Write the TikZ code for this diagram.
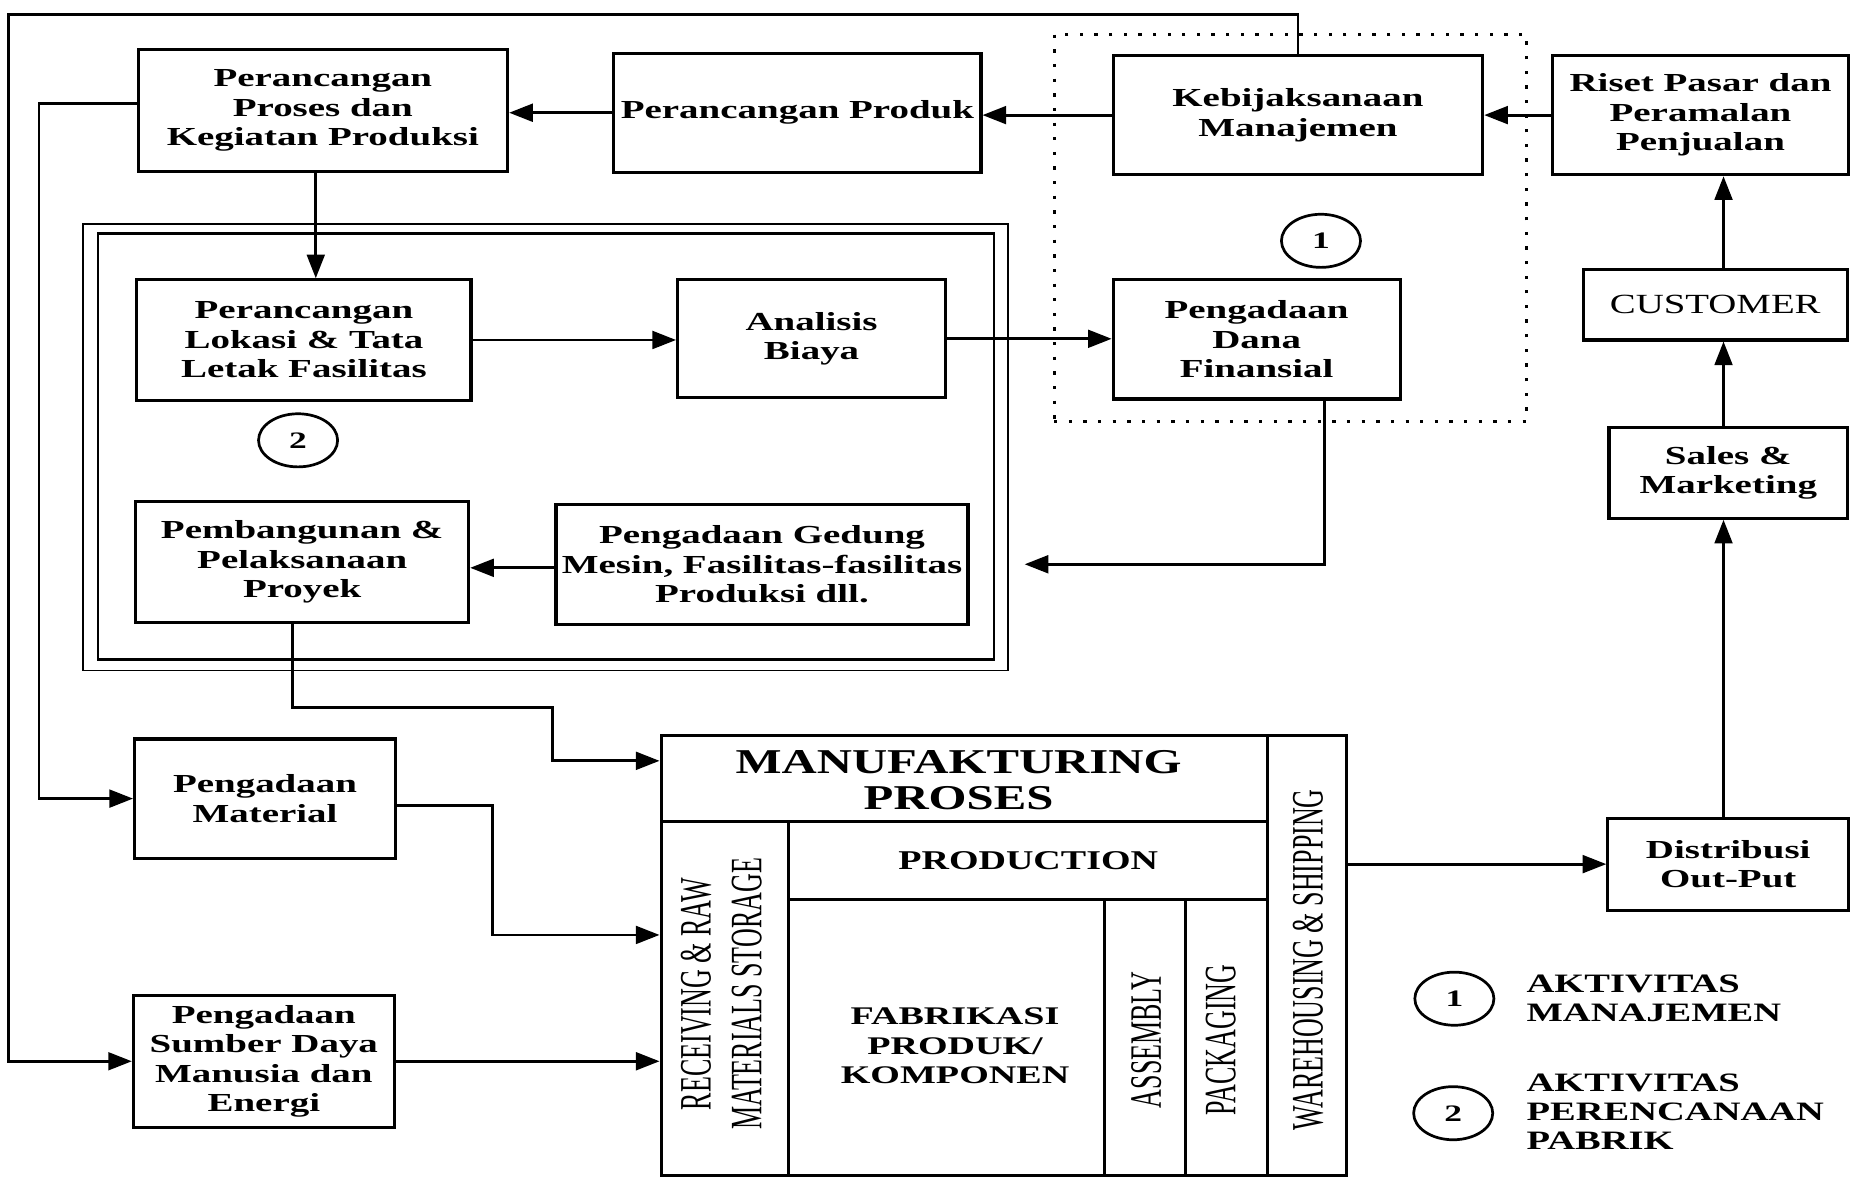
\documentclass[tikz,border=0pt]{standalone}
\usepackage{fontspec}
\setmainfont{Liberation Serif}
\newfontfamily\boxfont{Liberation Serif}[FakeStretch=1.5]
\newfontfamily\legfont{Liberation Serif}[FakeStretch=1.45]
\newfontfamily\custfont{Liberation Serif}[FakeStretch=1.4]
\newfontfamily\rotfont{Liberation Serif}[FakeStretch=0.58]
\usetikzlibrary{arrows.meta,shapes.geometric}
\begin{document}
\begin{tikzpicture}[x=1pt,y=-1pt,
  box/.style={draw, line width=2.6pt, inner sep=0pt, align=center, font=\boxfont\bfseries\fontsize{22}{25}\selectfont},
  arr/.style={line width=2.4pt, -{Triangle[length=20pt,width=15pt]}},
  num/.style={draw, ellipse, line width=2.3pt, minimum width=67pt, minimum height=45pt, inner sep=0pt, font=\boxfont\bfseries\fontsize{20}{22}\selectfont},
  cell/.style={draw, line width=2.6pt, inner sep=0pt},
  rot/.style={rotate=90, align=center, inner sep=0pt, font=\rotfont\fontsize{38}{43}\selectfont},
  legendtxt/.style={anchor=west, align=left, inner sep=0pt, font=\legfont\bfseries\fontsize{22.5}{24.5}\selectfont},
  frame/.style={draw, inner sep=0pt},
  dotframe/.style={draw, inner sep=0pt, line width=2.8pt, dash pattern=on 2.8pt off 9.6pt}
]
\useasboundingbox (0,0) rectangle (1568,998);

% group frames
\node[frame, line width=1.6pt, minimum width=784pt, minimum height=378pt] (planout) at (462,379) {};
\node[frame, line width=2.4pt, minimum width=759pt, minimum height=360.5pt] (planin) at (462.5,378.25) {};
\node[dotframe, minimum width=400pt, minimum height=328pt] (mgmt) at (1093,193) {};

% boxes
\node[box, minimum width=313pt, minimum height=103pt] (proc) at (273.5,93.5) {Perancangan\\Proses dan\\Kegiatan Produksi};
\node[box, minimum width=311pt, minimum height=101pt] (prod) at (675.5,95.5) {Perancangan Produk};
\node[box, minimum width=313pt, minimum height=101pt] (kebij) at (1099.5,97.5) {Kebijaksanaan\\Manajemen};
\node[box, minimum width=251pt, minimum height=101pt] (riset) at (1440.5,97.5) {Riset Pasar dan\\Peramalan\\Penjualan};
\node[box, minimum width=243pt, minimum height=101pt] (dana) at (1064.5,287.5) {Pengadaan\\Dana\\Finansial};
\node[box, minimum width=224pt, minimum height=60pt, font=\custfont\fontsize{23.5}{25}\selectfont] (cust) at (1453,258) {CUSTOMER};
\node[box, minimum width=202pt, minimum height=77pt] (sales) at (1464,400.5) {Sales \&\\Marketing};
\node[box, minimum width=283pt, minimum height=102pt] (lokasi) at (257.5,288) {Perancangan\\Lokasi \& Tata\\Letak Fasilitas};
\node[box, minimum width=227pt, minimum height=100pt] (analisis) at (687.5,287) {Analisis\\Biaya};
\node[box, minimum width=282pt, minimum height=102pt] (pemb) at (256,476) {Pembangunan \&\\Pelaksanaan\\Proyek};
\node[box, minimum width=349pt, minimum height=102pt] (gedung) at (645.5,478) {Pengadaan Gedung\\Mesin, Fasilitas-fasilitas\\Produksi dll.};
\node[box, minimum width=221pt, minimum height=101pt] (material) at (224.5,676.5) {Pengadaan\\Material};
\node[box, minimum width=221pt, minimum height=112pt] (sdm) at (223.5,899) {Pengadaan\\Sumber Daya\\Manusia dan\\Energi};
\node[box, minimum width=204pt, minimum height=78pt] (distrib) at (1464,732) {Distribusi\\Out-Put};

% numbered circles
\node[num] (c1) at (1119,204) {1};
\node[num] (c2) at (252.5,373) {2};

% manufacturing block
\node[cell, minimum width=581pt, minimum height=373pt] (manuf) at (850.5,809.5) {};
\node[cell, minimum width=514pt, minimum height=73pt] (hdr) at (817,659.5) {};
\node[cell, minimum width=108pt, minimum height=300pt] (recv) at (614,846) {};
\node[cell, minimum width=406pt, minimum height=66pt] (prodn) at (871,729) {};
\node[cell, minimum width=268pt, minimum height=234pt] (fab) at (802,879) {};
\node[cell, minimum width=68pt, minimum height=234pt] (asm) at (970,879) {};
\node[cell, minimum width=70pt, minimum height=234pt] (pack) at (1039,879) {};
\node[cell, minimum width=67pt, minimum height=373pt] (wh) at (1107.5,809.5) {};

\node[align=center, inner sep=0pt, font=\custfont\bfseries\fontsize{29.5}{31}\selectfont] (tmanuf) at (812,661) {MANUFAKTURING\\PROSES};
\node[inner sep=0pt, font=\custfont\bfseries\fontsize{23}{25}\selectfont] (tprodn) at (871,729) {PRODUCTION};
\node[align=center, inner sep=0pt, font=\boxfont\bfseries\fontsize{21.5}{25}\selectfont] (tfab) at (809,886) {FABRIKASI\\PRODUK/\\KOMPONEN};
\node[rot] (trecv) at (611,842) {RECEIVING \& RAW\\MATERIALS STORAGE};
\node[rot] (tasm) at (971,881) {ASSEMBLY};
\node[rot] (tpack) at (1034,881) {PACKAGING};
\node[rot] (twh) at (1108,813) {WAREHOUSING \& SHIPPING};

% legend
\node[num] (l1) at (1232,846) {1};
\node[num] (l2) at (1231,943) {2};
\node[legendtxt] (lt1) at (1293,846) {AKTIVITAS\\MANAJEMEN};
\node[legendtxt] (lt2) at (1293,942) {AKTIVITAS\\PERENCANAAN\\PABRIK};

% connectors
\coordinate (tl) at (7,12);
\coordinate (lb) at (33,0);
\coordinate (mk) at (417.5,740);
\coordinate (k1) at (468,599);
\coordinate (gin) at (868,478);

\draw[arr] (riset.west) -- (kebij.east);
\draw[arr] (kebij.west) -- (kebij.west -| prod.east);
\draw[arr] (prod.west) -- (prod.west -| proc.east);
\draw[arr] ([xshift=-6pt]proc.south) -- ([xshift=-6pt]proc.south |- lokasi.north);
\draw[arr] (lokasi.east) -- (lokasi.east -| analisis.west);
\draw[arr] (analisis.east) -- (analisis.east -| dana.west);
\draw[arr] ([xshift=57.5pt]dana.south) |- (gin);
\draw[arr] ([yshift=-3pt]gedung.west) -- ([yshift=-3pt]gedung.west -| pemb.east);
\draw[arr] ([xshift=-8pt]pemb.south) |- (k1) |- ([yshift=15pt]hdr.west);
\draw[arr] ([yshift=5.5pt]proc.west) -| (lb |- material.west) -- (material.west);
\draw[arr] (kebij.north) |- (tl) |- (sdm.west);
\draw[arr] ([yshift=-5.5pt]material.east) -| (mk) |- ([yshift=17.5pt]manuf.west);
\draw[arr] (sdm.east) -- (sdm.east -| manuf.west);
\draw[arr] (wh.east |- distrib.west) -- (distrib.west);
\draw[arr] ([xshift=-4pt]distrib.north) -- ([xshift=-4pt]distrib.north |- sales.south);
\draw[arr] ([xshift=-4pt]sales.north) -- ([xshift=-4pt]sales.north |- cust.south);
\draw[arr] ([xshift=7pt]cust.north) -- ([xshift=7pt]cust.north |- riset.south);
\end{tikzpicture}
\end{document}
